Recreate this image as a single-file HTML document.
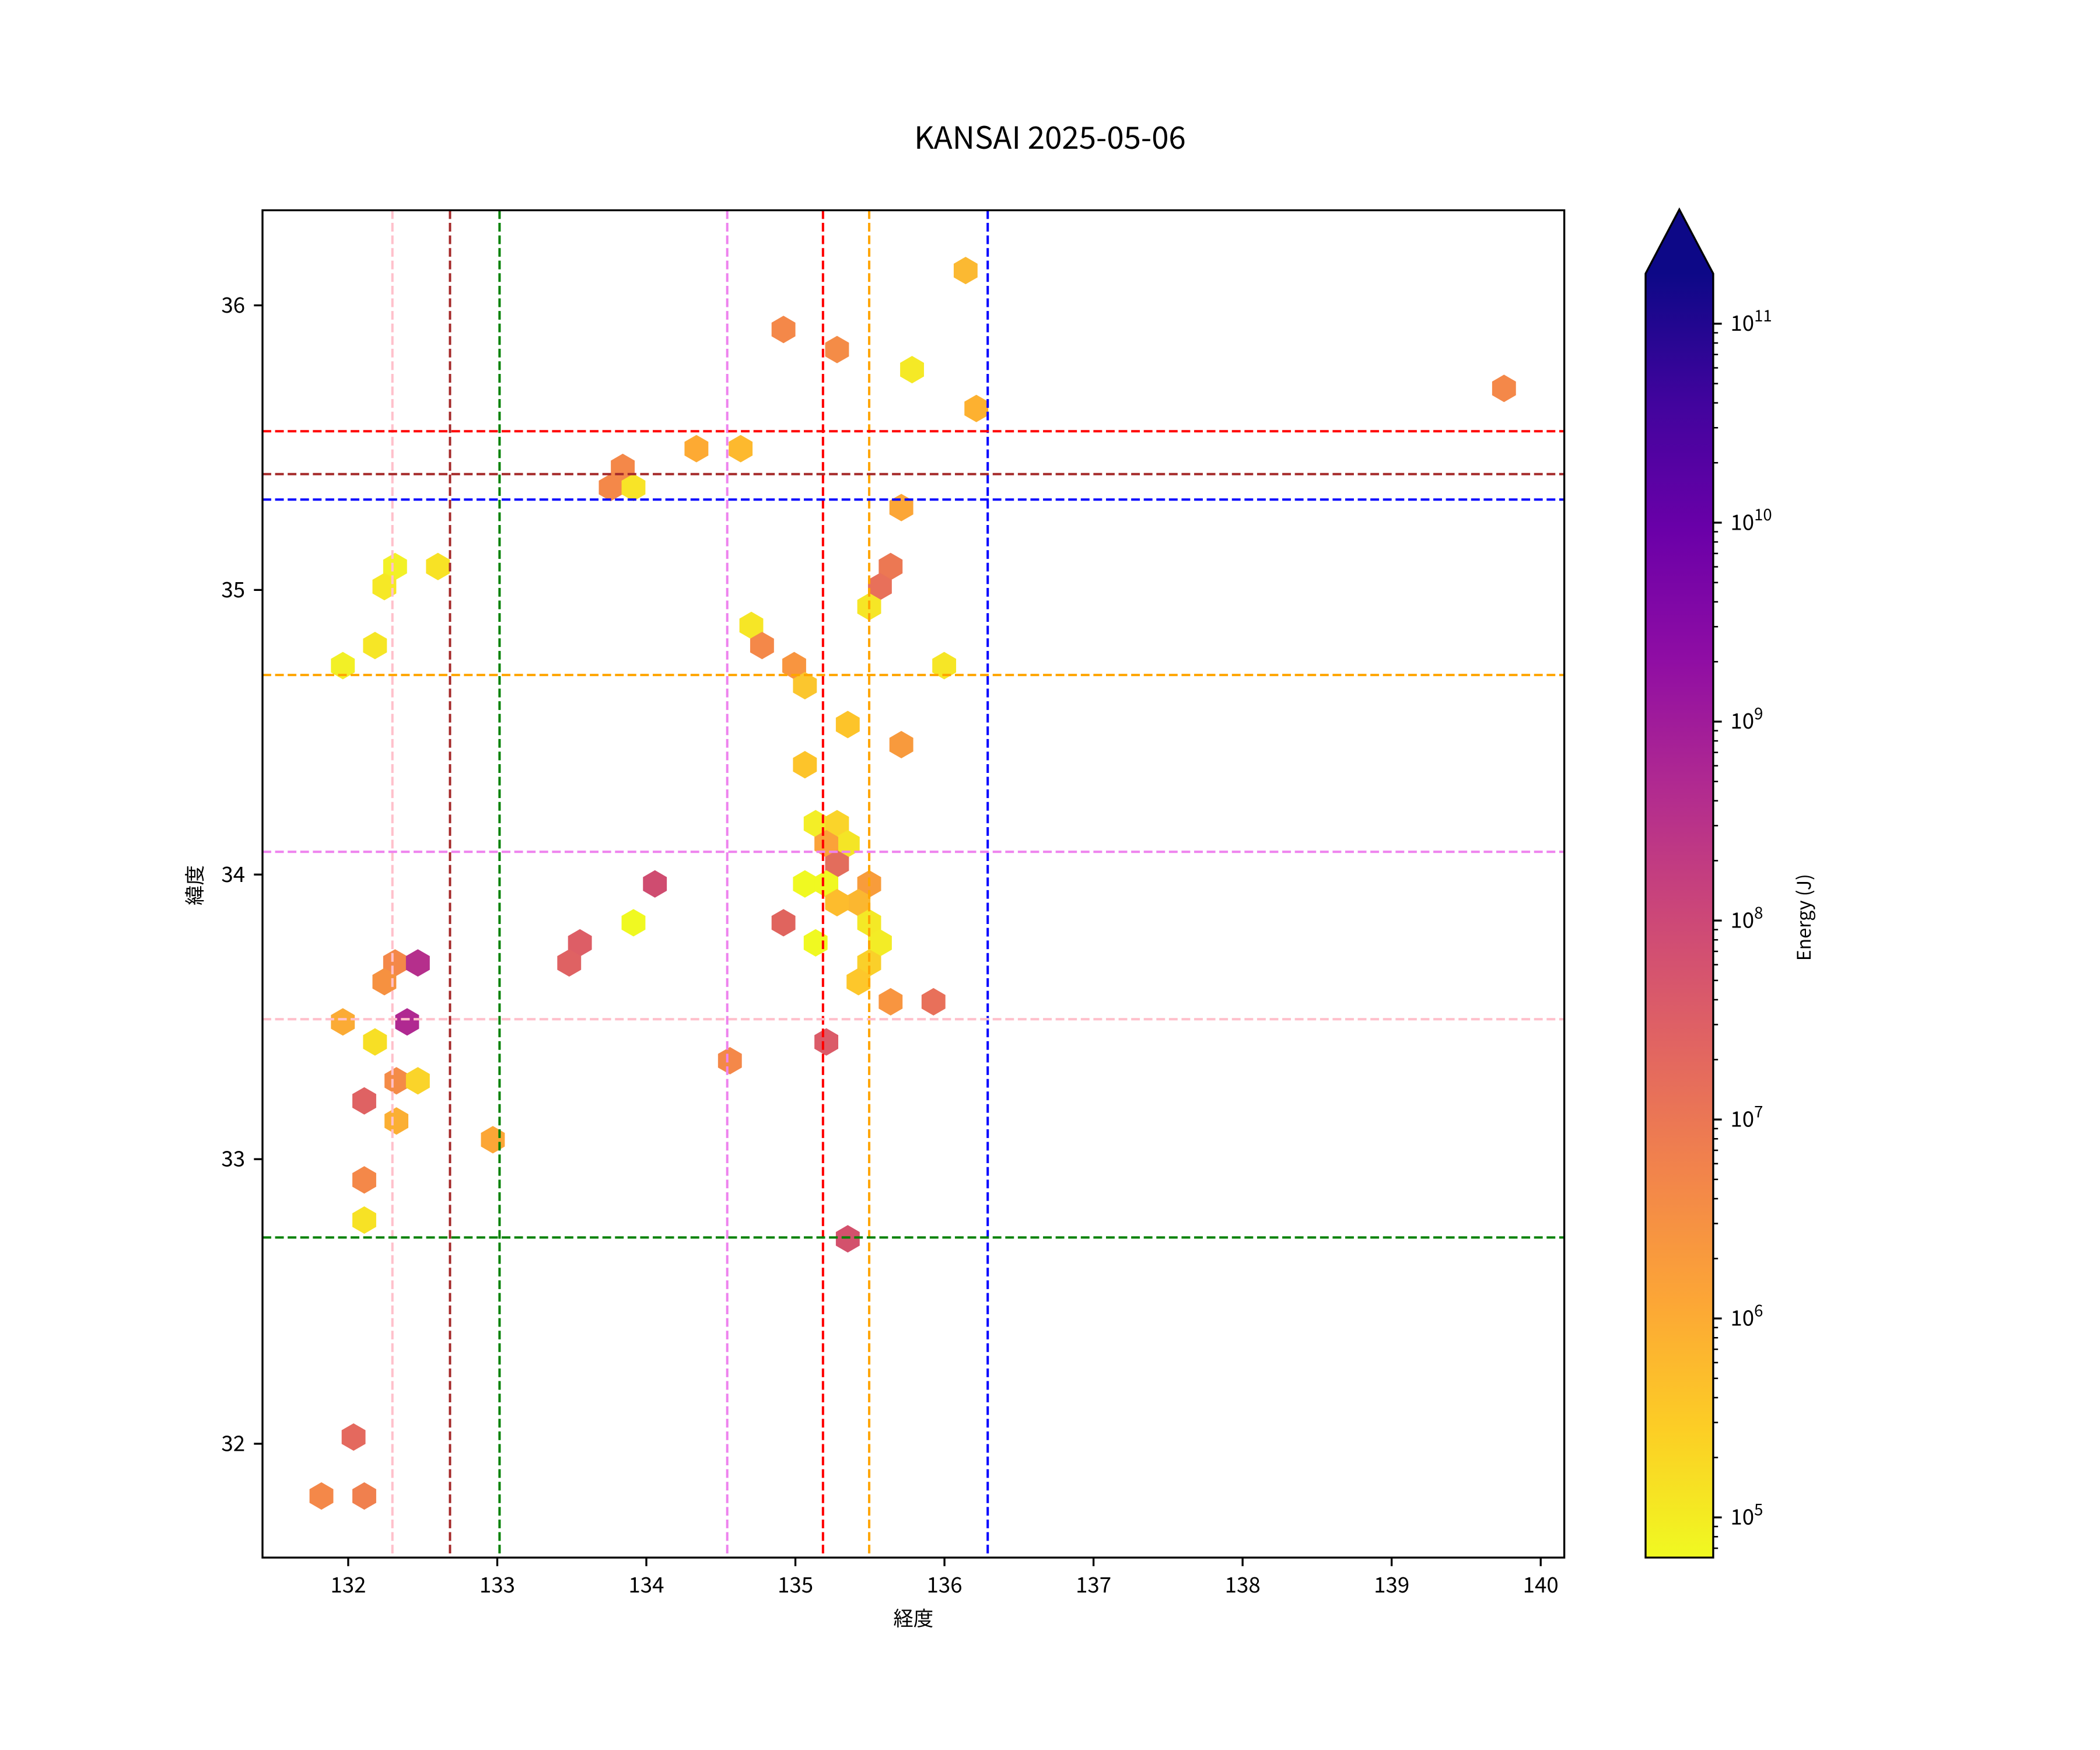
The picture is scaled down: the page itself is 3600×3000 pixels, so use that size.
<!DOCTYPE html>
<html><head><meta charset="utf-8"><style>html,body{margin:0;padding:0;background:#fff}svg{display:block}text{font-family:"Noto Sans CJK JP","Liberation Sans",sans-serif;fill:#000}</style></head>
<body>
<svg id="s" xmlns="http://www.w3.org/2000/svg" width="3600" height="3000" viewBox="0 0 1568 1306.67">
<defs>
<polygon id="h" points="0,-10.25 8.9,-5.1 8.9,5.1 0,10.25 -8.9,5.1 -8.9,-5.1"/>
<linearGradient id="pl" x1="0" y1="1" x2="0" y2="0">
<stop offset="0" stop-color="#f0f921"/><stop offset="0.1" stop-color="#fcce25"/><stop offset="0.2" stop-color="#fca636"/><stop offset="0.3" stop-color="#f2844b"/><stop offset="0.4" stop-color="#e16462"/><stop offset="0.5" stop-color="#cc4778"/><stop offset="0.6" stop-color="#b12a90"/><stop offset="0.7" stop-color="#8f0da4"/><stop offset="0.8" stop-color="#6a00a8"/><stop offset="0.9" stop-color="#41049d"/><stop offset="1" stop-color="#0d0887"/>
</linearGradient>
</defs>
<rect width="1568" height="1307" fill="#fff"/>
<text x="784" y="111" font-size="23" text-anchor="middle">KANSAI 2025-05-06</text>
<g id="hex">
<use href="#h" x="721" y="202" fill="#fbb932"/><use href="#h" x="585" y="246" fill="#f48849"/><use href="#h" x="625" y="261" fill="#f48c47"/><use href="#h" x="681" y="276" fill="#f5e926"/><use href="#h" x="729" y="305" fill="#fdb130"/><use href="#h" x="1123" y="290" fill="#f48849"/><use href="#h" x="520" y="335" fill="#fdaa33"/><use href="#h" x="553" y="335" fill="#fdb92e"/><use href="#h" x="465" y="349" fill="#f48849"/><use href="#h" x="456" y="364" fill="#f48849"/><use href="#h" x="473" y="364" fill="#f8e427"/><use href="#h" x="673" y="379" fill="#fca636"/><use href="#h" x="295" y="423" fill="#f2f127"/><use href="#h" x="327" y="423" fill="#f8e225"/><use href="#h" x="287" y="438" fill="#f6e826"/><use href="#h" x="665" y="423" fill="#ec7853"/><use href="#h" x="657" y="438" fill="#e8705a"/><use href="#h" x="649" y="453" fill="#f6e626"/><use href="#h" x="561" y="467" fill="#f6e626"/><use href="#h" x="569" y="482" fill="#f48849"/><use href="#h" x="280" y="482" fill="#f6e626"/><use href="#h" x="256" y="497" fill="#f2f026"/><use href="#h" x="593" y="497" fill="#f89540"/><use href="#h" x="601" y="512" fill="#fbc62e"/><use href="#h" x="705" y="497" fill="#f6e626"/><use href="#h" x="633" y="541" fill="#fdc42a"/><use href="#h" x="673" y="556" fill="#f89a3d"/><use href="#h" x="601" y="571" fill="#fdc42a"/><use href="#h" x="609" y="615" fill="#f3ee27"/><use href="#h" x="625" y="615" fill="#fad42a"/><use href="#h" x="633" y="630" fill="#f4e526"/><use href="#h" x="617" y="630" fill="#fba239"/><use href="#h" x="625" y="645" fill="#e36d5c"/><use href="#h" x="601" y="660" fill="#f0f921"/><use href="#h" x="617" y="660" fill="#f0f921"/><use href="#h" x="649" y="660" fill="#f89c3b"/><use href="#h" x="489" y="660" fill="#cf4c70"/><use href="#h" x="641" y="674" fill="#fbb730"/><use href="#h" x="625" y="674" fill="#fdbc2d"/><use href="#h" x="473" y="689" fill="#f0f921"/><use href="#h" x="585" y="689" fill="#e0645e"/><use href="#h" x="649" y="689" fill="#f4e926"/><use href="#h" x="657" y="704" fill="#f3ec26"/><use href="#h" x="609" y="704" fill="#f0f921"/><use href="#h" x="433" y="704" fill="#dd5e66"/><use href="#h" x="425" y="719" fill="#df6263"/><use href="#h" x="295" y="719" fill="#f48849"/><use href="#h" x="312" y="719" fill="#b52f8c"/><use href="#h" x="649" y="719" fill="#fad02a"/><use href="#h" x="287" y="733" fill="#f69140"/><use href="#h" x="641" y="733" fill="#fdc72b"/><use href="#h" x="665" y="748" fill="#f89540"/><use href="#h" x="697" y="748" fill="#e8705a"/><use href="#h" x="256" y="763" fill="#fbab35"/><use href="#h" x="304" y="763" fill="#b02991"/><use href="#h" x="280" y="778" fill="#f7df25"/><use href="#h" x="617" y="778" fill="#db5b68"/><use href="#h" x="296" y="807" fill="#f48b47"/><use href="#h" x="312" y="807" fill="#fad42a"/><use href="#h" x="545" y="792" fill="#f48849"/><use href="#h" x="272" y="822" fill="#df6263"/><use href="#h" x="296" y="837" fill="#fbaf33"/><use href="#h" x="368" y="851" fill="#fca636"/><use href="#h" x="272" y="881" fill="#f48849"/><use href="#h" x="272" y="911" fill="#f7e225"/><use href="#h" x="633" y="925" fill="#d3516c"/><use href="#h" x="264" y="1073" fill="#e4695e"/><use href="#h" x="240" y="1117" fill="#f48849"/><use href="#h" x="272" y="1117" fill="#f0804e"/>
</g>
<g stroke-width="1.75" stroke-dasharray="6.5 2.9" fill="none">
<line x1="293" y1="157" x2="293" y2="1163" stroke="#ffc0cb"/>
<line x1="336" y1="157" x2="336" y2="1163" stroke="#a52a2a"/>
<line x1="373" y1="157" x2="373" y2="1163" stroke="#008000"/>
<line x1="543" y1="157" x2="543" y2="1163" stroke="#ee82ee"/>
<line x1="614.5" y1="157" x2="614.5" y2="1163" stroke="#ff0000"/>
<line x1="649" y1="157" x2="649" y2="1163" stroke="#ffa500"/>
<line x1="737.5" y1="157" x2="737.5" y2="1163" stroke="#0000ff"/>
<line x1="196" y1="322" x2="1168" y2="322" stroke="#ff0000"/>
<line x1="196" y1="354" x2="1168" y2="354" stroke="#a52a2a"/>
<line x1="196" y1="373" x2="1168" y2="373" stroke="#0000ff"/>
<line x1="196" y1="504" x2="1168" y2="504" stroke="#ffa500"/>
<line x1="196" y1="636" x2="1168" y2="636" stroke="#ee82ee"/>
<line x1="196" y1="761" x2="1168" y2="761" stroke="#ffc0cb"/>
<line x1="196" y1="924" x2="1168" y2="924" stroke="#008000"/>
</g>
<rect x="196" y="157" width="972" height="1006" fill="none" stroke="#000" stroke-width="1.45"/>
<g stroke="#000" stroke-width="1.45" id="xt">
<line x1="260" y1="1163" x2="260" y2="1169.4"/><line x1="371.3" y1="1163" x2="371.3" y2="1169.4"/><line x1="482.6" y1="1163" x2="482.6" y2="1169.4"/><line x1="593.9" y1="1163" x2="593.9" y2="1169.4"/><line x1="705.2" y1="1163" x2="705.2" y2="1169.4"/><line x1="816.5" y1="1163" x2="816.5" y2="1169.4"/><line x1="927.8" y1="1163" x2="927.8" y2="1169.4"/><line x1="1039.1" y1="1163" x2="1039.1" y2="1169.4"/><line x1="1150.4" y1="1163" x2="1150.4" y2="1169.4"/>
<line x1="196" y1="228" x2="189.6" y2="228"/><line x1="196" y1="440.5" x2="189.6" y2="440.5"/><line x1="196" y1="653" x2="189.6" y2="653"/><line x1="196" y1="865.5" x2="189.6" y2="865.5"/><line x1="196" y1="1078" x2="189.6" y2="1078"/>
</g>
<g font-size="16" text-anchor="middle">
<text x="260" y="1189">132</text><text x="371.3" y="1189">133</text><text x="482.6" y="1189">134</text><text x="593.9" y="1189">135</text><text x="705.2" y="1189">136</text><text x="816.5" y="1189">137</text><text x="927.8" y="1189">138</text><text x="1039.1" y="1189">139</text><text x="1150.4" y="1189">140</text>
</g>
<g font-size="16" text-anchor="end">
<text x="183" y="233.5">36</text><text x="183" y="446">35</text><text x="183" y="658.5">34</text><text x="183" y="871">33</text><text x="183" y="1083.5">32</text>
</g>
<text x="682" y="1214" font-size="15" text-anchor="middle">経度</text>
<text transform="translate(151,661) rotate(-90)" font-size="15" text-anchor="middle">緯度</text>
<polygon points="1228.7,204.3 1253.9,156.4 1279.2,204.3" fill="#0d0887"/>
<rect x="1228.7" y="204" width="50.5" height="959" fill="url(#pl)"/>
<polygon points="1228.7,1163 1228.7,204.3 1253.9,156.4 1279.2,204.3 1279.2,1163" fill="none" stroke="#000" stroke-width="1.45"/>
<g id="ct" stroke="#000" stroke-width="1.2"></g>
<g font-size="16">
<text x="1292" y="247">10<tspan font-size="12" dy="-7">11</tspan></text>
<text x="1292" y="395.6">10<tspan font-size="12" dy="-7">10</tspan></text>
<text x="1292" y="544.1">10<tspan font-size="12" dy="-7">9</tspan></text>
<text x="1292" y="692.7">10<tspan font-size="12" dy="-7">8</tspan></text>
<text x="1292" y="841.2">10<tspan font-size="12" dy="-7">7</tspan></text>
<text x="1292" y="989.8">10<tspan font-size="12" dy="-7">6</tspan></text>
<text x="1292" y="1138.3">10<tspan font-size="12" dy="-7">5</tspan></text>
</g>
<text transform="translate(1352,685) rotate(-90)" font-size="14" text-anchor="middle">Energy (J)</text>
<script>
var g=document.getElementById('ct'),ns='http://www.w3.org/2000/svg';
function L(y,len,w){var l=document.createElementNS(ns,'line');l.setAttribute('x1',1279.2);l.setAttribute('x2',1279.2+len);l.setAttribute('y1',y);l.setAttribute('y2',y);l.setAttribute('stroke-width',w);g.appendChild(l);}
for(var d=4;d<=11;d++){for(var m=1;m<=9;m++){var v=(d-5)+Math.log10(m);var y=1133-v*148.55;if(y<204.3||y>1163)continue;if(m==1)L(y,6.4,1.45);else L(y,3.6,1.1);}}
</script>
</svg>
</body></html>
